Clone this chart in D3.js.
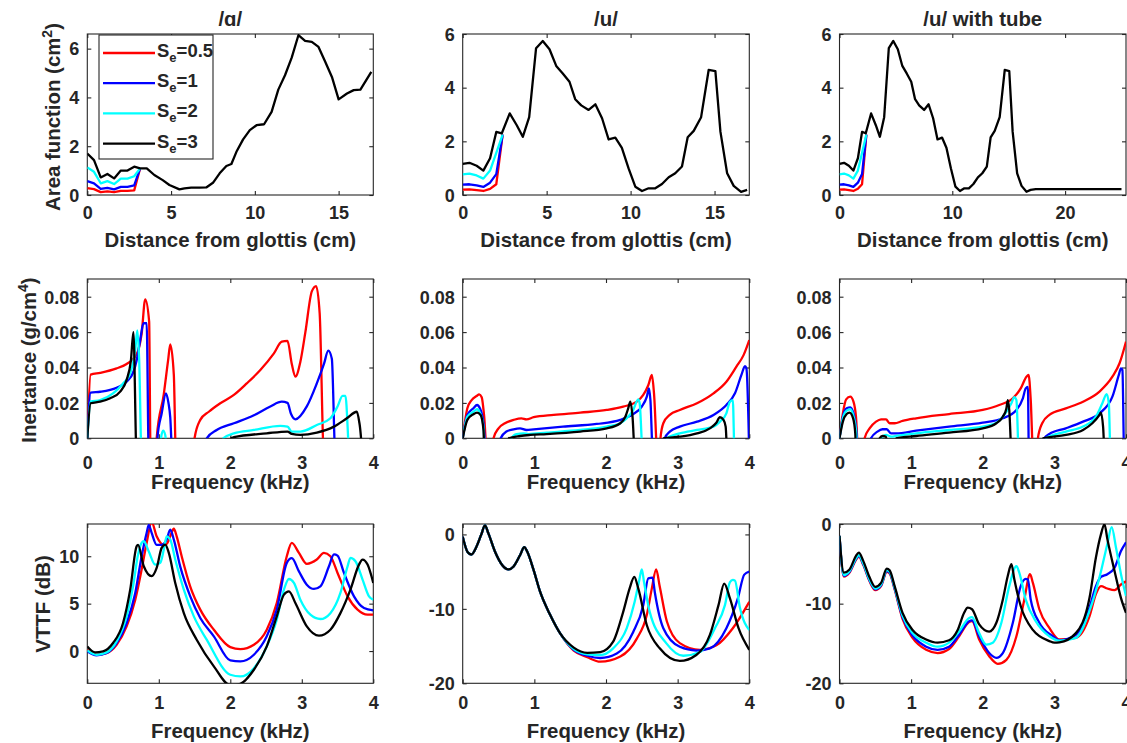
<!DOCTYPE html>
<html>
<head>
<meta charset="utf-8">
<script src="https://cdn.jsdelivr.net/npm/d3@7"></script>
<style>
body{margin:0;background:#fff}
text{font-family:"Liberation Sans",Arial,Helvetica,sans-serif;font-weight:bold;fill:#262626}
</style>
</head>
<body>
<svg id="fig" width="1127" height="743"></svg>
<script>
// legend / series names
var seNames = ['0.5', '1', '2', '3'];
var seColors = ['#ff0000', '#0000ff', '#00ffff', '#000000'];
var titles = ['/\u0251/', '/u/', '/u/ with tube'];

// ---- row 1: area functions (distance cm, area cm^2)
var areaA_red = [[0,0.28],[0.4,0.24],[0.8,0.12],[1.2,0.15],[1.6,0.12],[2.0,0.17],[2.4,0.17],[2.8,0.19],[3.15,1.09]];
var areaA_blue = [[0,0.57],[0.4,0.48],[0.8,0.25],[1.2,0.29],[1.6,0.23],[2.0,0.33],[2.4,0.33],[2.8,0.39],[3.15,1.09]];
var areaA_cyan = [[0,1.13],[0.4,0.95],[0.8,0.48],[1.2,0.57],[1.6,0.45],[2.0,0.67],[2.4,0.67],[2.8,0.77],[3.15,1.09]];
var areaA_black = [[0,1.7],[0.4,1.43],[0.8,0.72],[1.2,0.86],[1.6,0.68],[2.0,1.0],[2.4,1.0],[2.8,1.16],[3.15,1.09],
  [3.55,1.09],[4.0,0.82],[4.5,0.61],[4.9,0.41],[5.5,0.23],[5.8,0.27],[6.2,0.3],[6.7,0.3],[7.1,0.31],[7.5,0.5],
  [7.9,0.89],[8.3,1.19],[8.6,1.27],[8.9,1.77],[9.3,2.28],[9.7,2.66],[10.1,2.86],[10.55,2.9],[11.0,3.41],[11.4,4.32],
  [11.8,4.91],[12.2,5.63],[12.6,6.55],[13.0,6.32],[13.4,6.28],[13.8,6.07],[14.2,5.46],[14.6,4.84],[15.0,3.92],
  [15.5,4.16],[15.9,4.3],[16.3,4.32],[16.95,5.05]];

var areaU_red = [[0,0.2],[0.4,0.21],[0.83,0.18],[1.23,0.15],[1.63,0.23],[2.0,0.4],[2.38,2.25]];
var areaU_blue = [[0,0.39],[0.4,0.4],[0.83,0.36],[1.23,0.3],[1.63,0.46],[2.0,0.78],[2.38,2.25]];
var areaU_cyan = [[0,0.77],[0.4,0.8],[0.83,0.73],[1.23,0.61],[1.63,0.91],[2.0,1.57],[2.38,2.25]];
var areaU_black = [[0,1.16],[0.4,1.2],[0.83,1.09],[1.23,0.91],[1.63,1.37],[2.0,2.35],[2.33,2.3],[2.8,3.04],
  [3.22,2.6],[3.58,2.17],[3.96,2.9],[4.37,5.47],[4.77,5.74],[5.17,5.43],[5.57,4.81],[5.96,4.53],[6.36,4.22],
  [6.7,3.57],[7.06,3.34],[7.5,3.17],[7.9,3.38],[8.3,2.86],[8.69,2.07],[9.09,2.14],[9.48,1.76],[9.88,0.99],
  [10.28,0.31],[10.68,0.15],[11.07,0.25],[11.47,0.25],[11.87,0.41],[12.27,0.66],[12.66,0.81],[13.06,1.06],
  [13.4,2.15],[13.76,2.39],[14.2,2.9],[14.65,4.66],[15.05,4.62],[15.35,2.36],[15.75,0.81],[16.14,0.34],
  [16.58,0.12],[16.94,0.19]];
var tubeU_black = [[16.94,0.19],[17.4,0.22],[25.0,0.22]];

// ---- row 2: inertance (kHz, g/cm^4); -0.01 marks negative stretches clipped by the axes
var inertA_red = [[0,0],[0.047,0.036],[0.18,0.037],[0.41,0.0395],[0.55,0.042],[0.645,0.045],[0.715,0.05],[0.76,0.059],
  [0.81,0.0785],[0.865,0.066],[0.885,-0.01],[0.96,-0.01],[0.97,0],[1.07,0.025],[1.13,0.044],[1.16,0.053],[1.21,0.036],
  [1.24,-0.01],[1.49,-0.01],[1.5,0],[1.58,0.0104],[1.7,0.015],[1.86,0.0198],[2.05,0.0245],[2.23,0.031],[2.42,0.0386],
  [2.61,0.048],[2.72,0.0546],[2.8,0.055],[2.86,0.042],[2.91,0.0348],[2.98,0.0433],[3.05,0.06],[3.14,0.083],[3.2,0.086],
  [3.25,0.0706],[3.31,-0.01],[4,-0.01]];
var inertA_blue = [[0,0],[0.047,0.0258],[0.18,0.0263],[0.41,0.0286],[0.55,0.032],[0.645,0.0376],[0.69,0.044],[0.74,0.0555],
  [0.785,0.065],[0.83,0.065],[0.86,-0.01],[0.975,-0.01],[0.98,0],[1.04,0.014],[1.1,0.0254],[1.135,0.02],[1.16,0.012],
  [1.19,-0.01],[1.665,-0.01],[1.67,0],[1.81,0.0047],[2.05,0.0085],[2.33,0.013],[2.56,0.018],[2.72,0.0207],[2.8,0.02],
  [2.85,0.0137],[2.91,0.0107],[3.07,0.018],[3.21,0.031],[3.31,0.042],[3.37,0.0495],[3.42,0.045],[3.47,-0.01],[4,-0.01]];
var inertA_cyan = [[0,0],[0.047,0.0207],[0.18,0.0216],[0.36,0.0254],[0.5,0.031],[0.6,0.0367],[0.67,0.05],[0.7,0.061],
  [0.725,0.045],[0.76,-0.01],[1.025,-0.01],[1.03,0],[1.06,0.0043],[1.09,0.0019],[1.12,-0.01],[1.895,-0.01],[1.9,0],
  [2.05,0.0028],[2.33,0.0047],[2.7,0.007],[2.8,0.0066],[2.86,0.0038],[2.98,0.0038],[3.21,0.0075],[3.4,0.0113],
  [3.5,0.018],[3.57,0.024],[3.61,0.024],[3.67,-0.01],[4,-0.01]];
var inertA_black = [[0,0],[0.047,0.0198],[0.18,0.0207],[0.32,0.0226],[0.46,0.0264],[0.55,0.033],[0.61,0.044],[0.645,0.06],
  [0.69,-0.01],[2.0,-0.01],[2.01,0],[2.05,0.0006],[2.51,0.0028],[2.8,0.0038],[2.86,0.0025],[2.98,0.0019],[3.21,0.0032],
  [3.45,0.0066],[3.63,0.0113],[3.77,0.015],[3.81,0.0075],[3.86,-0.01],[4,-0.01]];

var inertU_red = [[0,0],[0.065,0.017],[0.125,0.0216],[0.195,0.0239],[0.23,0.0248],[0.265,0.0232],[0.3,0.0122],[0.34,-0.01],
  [0.425,-0.01],[0.43,0],[0.5,0.0056],[0.59,0.0085],[0.71,0.0104],[0.82,0.0113],[0.89,0.0107],[0.99,0.0119],[1.27,0.0132],
  [1.64,0.0145],[2.01,0.016],[2.24,0.0179],[2.43,0.0207],[2.52,0.0245],[2.59,0.03],[2.64,0.0358],[2.67,0.0254],
  [2.72,-0.01],[2.755,-0.01],[2.76,0],[2.8,0.0085],[2.89,0.0132],[3.03,0.016],[3.27,0.0198],[3.5,0.0254],[3.68,0.032],
  [3.82,0.0405],[3.92,0.047],[4.0,0.0555]];
var inertU_blue = [[0,0],[0.065,0.0132],[0.15,0.017],[0.2,0.0188],[0.24,0.017],[0.29,0.0085],[0.33,-0.01],[0.525,-0.01],
  [0.53,0],[0.61,0.0038],[0.71,0.0051],[0.8,0.0056],[0.89,0.0047],[0.99,0.0051],[1.4,0.0066],[1.87,0.0081],[2.2,0.0104],
  [2.38,0.0137],[2.5,0.0179],[2.57,0.0235],[2.6,0.0282],[2.62,0.0216],[2.655,-0.01],[2.815,-0.01],[2.82,0],[2.89,0.0038],
  [3.03,0.0066],[3.27,0.0094],[3.5,0.0132],[3.68,0.0188],[3.8,0.0254],[3.89,0.0358],[3.94,0.0408],[3.96,0.0395],[4.0,-0.01]];
var inertU_cyan = [[0,0],[0.065,0.0122],[0.15,0.015],[0.2,0.0164],[0.24,0.0145],[0.29,0.0066],[0.315,-0.01],[0.675,-0.01],
  [0.68,0],[0.75,0.0024],[0.85,0.0028],[0.92,0.0024],[1.17,0.0032],[1.64,0.0047],[2.01,0.0066],[2.2,0.0085],[2.29,0.0113],
  [2.38,0.016],[2.45,0.022],[2.47,0.0198],[2.515,-0.01],[2.845,-0.01],[2.85,0],[3.03,0.0028],[3.27,0.0047],[3.5,0.0066],
  [3.59,0.0094],[3.68,0.0141],[3.73,0.0207],[3.77,0.0216],[3.795,-0.01],[4,-0.01]];
var inertU_black = [[0,0],[0.065,0.0104],[0.15,0.0136],[0.2,0.0145],[0.25,0.0132],[0.29,0.0047],[0.305,-0.01],[0.635,-0.01],
  [0.64,0],[0.8,0.0013],[0.94,0.0019],[1.17,0.0024],[1.64,0.0038],[2.01,0.0056],[2.2,0.0085],[2.27,0.0122],[2.31,0.0169],
  [2.34,0.0207],[2.37,0.0122],[2.405,-0.01],[2.795,-0.01],[2.8,0],[3.03,0.0009],[3.27,0.0028],[3.45,0.0056],[3.54,0.0088],
  [3.59,0.0119],[3.64,0.0104],[3.67,0.0066],[3.695,-0.01],[4,-0.01]];

var inertT_red = [[0,0],[0.047,0.0141],[0.093,0.022],[0.15,0.0235],[0.195,0.0207],[0.23,0.0122],[0.265,-0.01],[0.345,-0.01],
  [0.35,0],[0.42,0.0056],[0.51,0.0094],[0.58,0.0107],[0.65,0.0107],[0.7,0.0085],[0.77,0.0085],[0.88,0.0098],[1.07,0.0113],
  [1.53,0.0137],[2.0,0.016],[2.23,0.0188],[2.42,0.0226],[2.53,0.0282],[2.61,0.0348],[2.64,0.0358],[2.67,0.0216],
  [2.705,-0.01],[2.765,-0.01],[2.77,0],[2.83,0.0085],[2.93,0.0132],[3.16,0.0169],[3.4,0.0207],[3.63,0.0264],[3.81,0.0348],
  [3.91,0.0424],[4.0,0.0546]];
var inertT_blue = [[0,0],[0.047,0.0122],[0.1,0.017],[0.15,0.0175],[0.195,0.0141],[0.23,0.0066],[0.265,-0.01],[0.435,-0.01],
  [0.44,0],[0.53,0.0038],[0.6,0.0051],[0.66,0.0051],[0.72,0.0028],[0.79,0.0028],[1.07,0.0043],[1.53,0.0066],[2.0,0.0088],
  [2.28,0.0113],[2.47,0.016],[2.56,0.0226],[2.6,0.0282],[2.63,0.029],[2.645,-0.01],[2.855,-0.01],[2.86,0],[2.93,0.0024],
  [3.16,0.0056],[3.4,0.0094],[3.63,0.0141],[3.81,0.0235],[3.9,0.0358],[3.93,0.0395],[3.95,0.0386],[3.975,-0.01],[4,-0.01]];
var inertT_cyan = [[0,0],[0.047,0.0113],[0.1,0.0156],[0.15,0.0164],[0.195,0.0126],[0.23,0.0047],[0.255,-0.01],[0.575,-0.01],
  [0.58,0],[0.65,0.0019],[0.72,0.0009],[0.81,0.0015],[1.07,0.0028],[1.53,0.0047],[2.0,0.0066],[2.19,0.0088],[2.3,0.0132],
  [2.4,0.0198],[2.44,0.0232],[2.47,0.0216],[2.505,-0.01],[2.875,-0.01],[2.88,0],[3.16,0.0038],[3.4,0.0066],[3.58,0.0122],
  [3.67,0.0198],[3.73,0.025],[3.76,0.0198],[3.785,-0.01],[4,-0.01]];
var inertT_black = [[0,0],[0.047,0.0094],[0.1,0.0137],[0.14,0.0145],[0.19,0.0113],[0.22,0.0028],[0.235,-0.01],[0.555,-0.01],
  [0.56,0],[0.6,0.0013],[0.65,0.0009],[0.68,-0.01],[0.785,-0.01],[0.79,0],[1.07,0.0013],[1.53,0.0032],[2.0,0.0056],
  [2.19,0.0085],[2.28,0.0122],[2.33,0.0169],[2.35,0.0216],[2.37,0.016],[2.405,-0.01],[2.835,-0.01],[2.84,0],[3.16,0.0019],
  [3.4,0.0047],[3.53,0.0085],[3.63,0.0132],[3.65,0.0145],[3.68,0.0066],[3.705,-0.01],[4,-0.01]];

// ---- row 3: VTTF (kHz, dB)
var vttfA_red = [[0,0.14],[0.13,-0.39],[0.27,-0.21],[0.41,0.67],[0.55,2.6],[0.67,5.4],[0.76,8.6],[0.83,11.4],[0.9,13.6],
  [0.97,12.1],[1.07,11.2],[1.11,11.3],[1.16,12.1],[1.21,12.9],[1.25,12.1],[1.32,10.0],[1.44,6.8],[1.58,4.37],[1.77,2.25],
  [2.0,0.42],[2.14,0.21],[2.33,0.67],[2.51,2.25],[2.65,5.07],[2.79,10.0],[2.86,11.4],[2.96,10.35],[3.07,9.2],[3.21,9.65],
  [3.31,10.35],[3.4,10.0],[3.5,8.24],[3.64,5.77],[3.78,4.37],[3.92,3.84],[4.0,3.84]];
var vttfA_blue = [[0,-0.04],[0.13,-0.46],[0.27,-0.21],[0.41,0.85],[0.55,2.96],[0.67,6.1],[0.76,10.0],[0.83,12.46],[0.86,13.3],
  [0.9,12.46],[0.97,11.2],[1.04,11.2],[1.11,11.76],[1.16,12.8],[1.21,11.76],[1.3,8.9],[1.44,5.77],[1.58,3.49],[1.77,1.55],
  [2.0,-0.99],[2.14,-1.09],[2.33,-0.39],[2.51,1.55],[2.65,4.37],[2.79,9.3],[2.86,9.8],[2.96,8.4],[3.07,7.0],[3.17,6.55],
  [3.26,6.83],[3.38,8.94],[3.45,10.2],[3.5,10.07],[3.59,8.24],[3.73,5.77],[3.87,4.54],[4.0,4.3]];
var vttfA_cyan = [[0,0.07],[0.13,-0.39],[0.27,-0.14],[0.41,1.02],[0.55,3.66],[0.64,6.83],[0.71,10.18],[0.76,11.4],[0.79,11.58],
  [0.86,10.5],[0.95,9.12],[1.02,9.3],[1.07,10.7],[1.11,12.1],[1.16,11.76],[1.23,9.65],[1.35,6.48],[1.49,3.66],[1.67,1.2],
  [2.0,-2.5],[2.14,-2.68],[2.33,-1.8],[2.51,0.49],[2.65,3.31],[2.75,6.48],[2.82,7.6],[2.89,7.18],[2.98,5.42],[3.12,3.84],
  [3.26,3.38],[3.4,4.0],[3.54,6.13],[3.64,8.94],[3.68,9.82],[3.75,9.47],[3.85,7.54],[3.94,5.77],[4.0,5.42]];
var vttfA_black = [[0,0.49],[0.11,-0.14],[0.22,-0.04],[0.36,0.85],[0.5,2.96],[0.6,6.48],[0.69,11.05],[0.71,11.2],[0.79,8.94],
  [0.9,7.9],[0.97,8.77],[1.04,10.88],[1.09,11.23],[1.14,10.35],[1.23,7.18],[1.35,4.0],[1.53,1.2],[1.77,-1.62],[2.0,-3.6],
  [2.14,-3.45],[2.33,-1.97],[2.51,0.49],[2.65,3.66],[2.75,5.95],[2.82,6.3],[2.91,5.07],[3.07,2.6],[3.24,1.62],[3.4,2.25],
  [3.54,4.0],[3.68,6.48],[3.8,9.12],[3.85,9.65],[3.92,9.12],[4.0,7.18]];

var vttfU_low = [[0,-0.3],[0.07,-2.4],[0.12,-2.7],[0.19,-1.7],[0.26,0],[0.31,1.2],[0.36,0.1],[0.45,-2.3],[0.55,-4.1],
  [0.64,-4.7],[0.71,-4.3],[0.8,-2.8],[0.86,-1.7],[0.9,-2.3],[0.99,-4.8],[1.08,-7.7],[1.22,-10.8],[1.36,-13.3]];
var vttfU_red = [[1.55,-15.6],[1.74,-16.5],[1.92,-17.1],[2.2,-16.4],[2.43,-14.0],[2.57,-10.8],[2.64,-7.25],[2.7,-4.7],
  [2.75,-7.0],[2.85,-11.7],[3.03,-14.6],[3.31,-15.5],[3.54,-14.9],[3.77,-12.6],[4.0,-9.05]];
var vttfU_blue = [[1.55,-15.5],[1.74,-16.3],[1.92,-16.6],[2.15,-16.0],[2.38,-13.1],[2.52,-9.5],[2.59,-5.9],[2.65,-5.8],
  [2.68,-7.7],[2.8,-12.6],[3.03,-15.1],[3.26,-15.6],[3.45,-15.3],[3.68,-12.6],[3.84,-8.6],[3.93,-5.4],[4.0,-5.0]];
var vttfU_cyan = [[1.55,-15.4],[1.74,-16.1],[1.92,-16.2],[2.1,-15.3],[2.29,-12.6],[2.4,-9.05],[2.46,-6.36],[2.5,-4.7],
  [2.53,-6.36],[2.61,-10.4],[2.84,-14.6],[3.08,-16.3],[3.31,-15.8],[3.52,-12.6],[3.66,-9.5],[3.73,-6.4],[3.77,-6.1],
  [3.8,-6.2],[3.87,-9.9],[4.0,-12.85]];
var vttfU_black = [[1.55,-15.2],[1.74,-15.9],[1.92,-15.8],[2.1,-14.4],[2.24,-10.4],[2.33,-7.25],[2.395,-5.7],[2.45,-7.25],
  [2.57,-12.2],[2.75,-15.3],[3.03,-17.0],[3.26,-16.2],[3.45,-13.5],[3.57,-9.5],[3.65,-6.6],[3.73,-8.6],[3.85,-12.6],[4.0,-15.5]];

var vttfT_red = [[0,-1.5],[0.06,-6.6],[0.14,-6.1],[0.23,-4.5],[0.27,-4.1],[0.33,-5.1],[0.42,-7.2],[0.5,-8.3],[0.58,-7.8],
  [0.66,-6.0],[0.7,-6.2],[0.77,-8.2],[0.88,-11.9],[1.02,-14.3],[1.21,-15.8],[1.37,-16.2],[1.53,-15.7],[1.67,-14.1],
  [1.81,-12.3],[1.85,-12.2],[1.95,-14.5],[2.09,-16.6],[2.21,-17.55],[2.33,-17.05],[2.47,-14.1],[2.58,-9.5],[2.66,-6.3],
  [2.7,-7.4],[2.79,-10.7],[2.93,-13.05],[3.07,-14.5],[3.3,-14.3],[3.49,-11.6],[3.58,-8.8],[3.65,-7.8],[3.74,-8.1],
  [3.84,-8.3],[3.93,-7.6],[4.0,-7.2]];
var vttfT_blue = [[0,-1.5],[0.06,-6.5],[0.14,-6.0],[0.23,-4.4],[0.27,-4.0],[0.33,-5.0],[0.42,-7.1],[0.5,-8.2],[0.58,-7.7],
  [0.66,-5.9],[0.7,-6.1],[0.77,-8.1],[0.88,-11.7],[1.02,-14.0],[1.21,-15.4],[1.37,-15.8],[1.53,-15.4],[1.67,-13.9],
  [1.81,-12.2],[1.85,-12.1],[1.95,-14.1],[2.09,-16.2],[2.19,-16.8],[2.28,-16.2],[2.42,-12.4],[2.53,-7.8],[2.6,-6.9],
  [2.63,-6.95],[2.67,-9.5],[2.79,-12.4],[2.98,-14.1],[3.07,-14.6],[3.3,-13.9],[3.49,-10.5],[3.58,-7.8],[3.65,-6.65],
  [3.74,-6.3],[3.84,-5.5],[3.93,-3.4],[4.0,-2.3]];
var vttfT_cyan = [[0,-1.5],[0.06,-6.4],[0.14,-5.9],[0.23,-4.3],[0.27,-3.9],[0.33,-4.9],[0.42,-7.0],[0.5,-8.1],[0.58,-7.6],
  [0.66,-5.8],[0.7,-6.0],[0.77,-8.0],[0.88,-11.5],[1.02,-13.7],[1.21,-14.9],[1.37,-15.4],[1.53,-14.9],[1.67,-13.5],
  [1.81,-11.8],[1.85,-11.7],[1.95,-13.7],[2.05,-15.15],[2.14,-14.9],[2.26,-12.4],[2.37,-7.8],[2.47,-5.3],[2.51,-6.1],
  [2.6,-9.5],[2.74,-12.2],[2.93,-14.1],[3.07,-14.65],[3.3,-14.3],[3.49,-10.9],[3.63,-6.7],[3.74,-2.5],[3.8,-0.4],
  [3.86,-2.95],[3.93,-6.3],[4.0,-9.05]];
var vttfT_black = [[0,-1.5],[0.06,-6.1],[0.14,-5.7],[0.23,-4.0],[0.27,-3.6],[0.33,-4.6],[0.42,-6.7],[0.5,-7.9],[0.58,-7.4],
  [0.66,-5.6],[0.7,-5.8],[0.77,-7.8],[0.88,-11.15],[1.02,-13.3],[1.21,-14.5],[1.37,-14.9],[1.53,-14.6],[1.65,-13.3],
  [1.74,-11.15],[1.79,-10.5],[1.85,-10.7],[1.95,-12.6],[2.09,-13.5],[2.19,-12.4],[2.28,-9.5],[2.35,-6.5],[2.4,-5.05],
  [2.44,-6.9],[2.53,-10.3],[2.7,-13.3],[2.93,-14.7],[3.0,-14.9],[3.07,-14.86],[3.3,-13.7],[3.49,-9.3],[3.58,-4.2],
  [3.65,-1.3],[3.7,-0.05],[3.74,-1.9],[3.84,-5.9],[3.93,-9.3],[4.0,-11.15]];

// ticks
var distTicks = [0, 5, 10, 15];
var tubeTicks = [0, 10, 20];
var freqTicks = [0, 1, 2, 3, 4];
var areaTicks = [0, 2, 4, 6];
var inertTicks = [0, 0.02, 0.04, 0.06, 0.08];
var vttfATicks = [0, 5, 10];
var vttfUTicks = [-20, -10, 0];

var svg = d3.select('#fig');
var cols = [[87.3, 373.3], [462.7, 749.3], [839.5, 1126]];
var rows = [[34, 195], [279, 438.3], [524, 683.3]];
var axisCol = '#262626';
var tickFont = 18, labFont = 20.4;

function plain(d) { return String(d); }

function panel(o) {
  var cx = cols[o.c], ry = rows[o.r];
  var x = d3.scaleLinear().domain(o.xd).range(cx);
  var y = d3.scaleLinear().domain(o.yd).range([ry[1], ry[0]]);
  var id = 'clip' + o.r + o.c;
  svg.append('clipPath').attr('id', id).append('rect')
    .attr('x', cx[0]).attr('y', ry[0]).attr('width', cx[1] - cx[0]).attr('height', ry[1] - ry[0]);

  var fmt = o.fmt || plain;
  var gb = svg.append('g').attr('transform', 'translate(0,' + ry[1] + ')')
    .call(d3.axisBottom(x).tickValues(o.xt).tickSizeInner(-4).tickSizeOuter(0).tickPadding(o.xpad).tickFormat(plain));
  var gt = svg.append('g').attr('transform', 'translate(0,' + ry[0] + ')')
    .call(d3.axisTop(x).tickValues(o.xt).tickSizeInner(-4).tickSizeOuter(0).tickFormat(''));
  var gl = svg.append('g').attr('transform', 'translate(' + cx[0] + ',0)')
    .call(d3.axisLeft(y).tickValues(o.yt).tickSizeInner(-4).tickSizeOuter(0).tickPadding(8).tickFormat(fmt));
  var gr = svg.append('g').attr('transform', 'translate(' + cx[1] + ',0)')
    .call(d3.axisRight(y).tickValues(o.yt).tickSizeInner(-4).tickSizeOuter(0).tickFormat(''));
  [gb, gt, gl, gr].forEach(function (g) {
    g.select('.domain').remove();
    g.selectAll('line').attr('stroke', axisCol).attr('stroke-width', 1.1);
    g.selectAll('text').style('font-size', tickFont + 'px').attr('fill', axisCol);
    g.attr('font-family', null).attr('font-size', null);
  });
  gl.selectAll('text').attr('dy', '0.35em');

  svg.append('rect').attr('x', cx[0]).attr('y', ry[0]).attr('width', cx[1] - cx[0]).attr('height', ry[1] - ry[0])
    .attr('fill', 'none').attr('stroke', axisCol).attr('stroke-width', 1.1);

  var line = d3.line().x(function (d) { return x(d[0]); }).y(function (d) { return y(d[1]); })
    .curve(o.curve || d3.curveLinear);
  svg.append('g').attr('clip-path', 'url(#' + id + ')')
    .selectAll('path').data(o.series).join('path')
    .attr('d', function (d) { return line(d.pts); })
    .attr('fill', 'none').attr('stroke', function (d) { return d.col; })
    .attr('stroke-width', 2.3).attr('stroke-linejoin', 'round');

  if (o.title) {
    svg.append('text').attr('x', (cx[0] + cx[1]) / 2).attr('y', 26).attr('text-anchor', 'middle')
      .style('font-size', labFont + 'px').text(o.title);
  }
  svg.append('text').attr('x', (cx[0] + cx[1]) / 2).attr('y', o.xlabY).attr('text-anchor', 'middle')
    .style('font-size', labFont + 'px').text(o.xlab);
}

function ser(list) {
  return list.map(function (p, i) { return {pts: p, col: seColors[i]}; });
}

var mono = d3.curveMonotoneX;
var dec2 = d3.format('.2f');
var inertFmt = function (d) { return d === 0 ? '0' : dec2(d); };

// row 1
panel({r: 0, c: 0, xd: [0, 17.07], yd: [0, 6.6], xt: distTicks, yt: areaTicks, xpad: 11.5, title: titles[0],
  xlab: 'Distance from glottis (cm)', xlabY: 247, series: ser([areaA_red, areaA_blue, areaA_cyan, areaA_black])});
panel({r: 0, c: 1, xd: [0, 17.07], yd: [0, 6], xt: distTicks, yt: areaTicks, xpad: 11.5, title: titles[1],
  xlab: 'Distance from glottis (cm)', xlabY: 247, series: ser([areaU_red, areaU_blue, areaU_cyan, areaU_black])});
panel({r: 0, c: 2, xd: [0, 25.4], yd: [0, 6], xt: tubeTicks, yt: areaTicks, xpad: 11.5, title: titles[2],
  xlab: 'Distance from glottis (cm)', xlabY: 247,
  series: ser([areaU_red, areaU_blue, areaU_cyan, areaU_black.concat(tubeU_black)])});
// row 2
panel({r: 1, c: 0, xd: [0, 4], yd: [0, 0.09], xt: freqTicks, yt: inertTicks, xpad: 18, fmt: inertFmt, curve: mono,
  xlab: 'Frequency (kHz)', xlabY: 489, series: ser([inertA_red, inertA_blue, inertA_cyan, inertA_black])});
panel({r: 1, c: 1, xd: [0, 4], yd: [0, 0.09], xt: freqTicks, yt: inertTicks, xpad: 18, fmt: inertFmt, curve: mono,
  xlab: 'Frequency (kHz)', xlabY: 489, series: ser([inertU_red, inertU_blue, inertU_cyan, inertU_black])});
panel({r: 1, c: 2, xd: [0, 4], yd: [0, 0.09], xt: freqTicks, yt: inertTicks, xpad: 18, fmt: inertFmt, curve: mono,
  xlab: 'Frequency (kHz)', xlabY: 489, series: ser([inertT_red, inertT_blue, inertT_cyan, inertT_black])});
// row 3
panel({r: 2, c: 0, xd: [0, 4], yd: [-3.4, 13.4], xt: freqTicks, yt: vttfATicks, xpad: 12.5, curve: mono,
  xlab: 'Frequency (kHz)', xlabY: 738, series: ser([vttfA_red, vttfA_blue, vttfA_cyan, vttfA_black])});
panel({r: 2, c: 1, xd: [0, 4], yd: [-20, 1.4], xt: freqTicks, yt: vttfUTicks, xpad: 12.5, curve: mono,
  xlab: 'Frequency (kHz)', xlabY: 738,
  series: ser([vttfU_low.concat(vttfU_red), vttfU_low.concat(vttfU_blue), vttfU_low.concat(vttfU_cyan), vttfU_low.concat(vttfU_black)])});
panel({r: 2, c: 2, xd: [0, 4], yd: [-20, 0], xt: freqTicks, yt: vttfUTicks, xpad: 12.5, curve: mono,
  xlab: 'Frequency (kHz)', xlabY: 738, series: ser([vttfT_red, vttfT_blue, vttfT_cyan, vttfT_black])});

// y labels (rotated, with superscripts)
function ylabel(cx, cy, main, sup) {
  var t = svg.append('text').attr('transform', 'translate(' + cx + ',' + cy + ') rotate(-90)')
    .attr('text-anchor', 'middle').attr('dy', '0.36em').style('font-size', labFont + 'px');
  t.append('tspan').text(main);
  if (sup) {
    t.append('tspan').attr('dy', -8).style('font-size', '14px').text(sup);
    t.append('tspan').attr('dy', 8).text(')');
  }
}
ylabel(53, 117, 'Area function (cm', '2');
ylabel(29, 360, 'Inertance (g/cm', '4');
ylabel(43, 604, 'VTTF (dB)');

// legend in the first panel
var leg = svg.append('g');
leg.append('rect').attr('x', 99).attr('y', 35).attr('width', 114).attr('height', 124)
  .attr('fill', '#fff').attr('stroke', axisCol).attr('stroke-width', 1.1);
seNames.forEach(function (s, i) {
  var ly = 53 + i * 30.2;
  leg.append('line').attr('x1', 103).attr('x2', 155).attr('y1', ly).attr('y2', ly)
    .attr('stroke', seColors[i]).attr('stroke-width', 2.3);
  var t = leg.append('text').attr('x', 157).attr('y', ly + 4).style('font-size', '18.5px');
  t.append('tspan').text('S');
  t.append('tspan').attr('dy', 5).style('font-size', '13px').text('e');
  t.append('tspan').attr('dy', -5).text('=' + s);
});
</script>
</body>
</html>
